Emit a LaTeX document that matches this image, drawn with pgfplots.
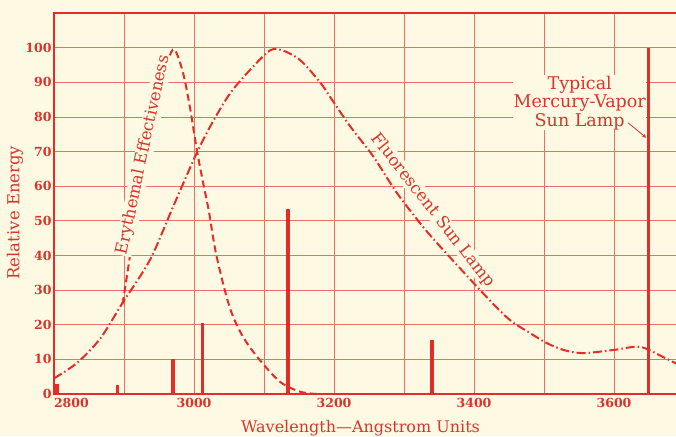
\documentclass[border=0pt]{standalone}
\usepackage{fontspec}
\setmainfont{DejaVu Serif}
\usepackage{pgfplots}
\pgfplotsset{compat=1.18}
\definecolor{cream}{RGB}{253,249,226}
\definecolor{lred}{RGB}{226,46,38}
\definecolor{gred}{RGB}{232,112,100}
\definecolor{tred}{RGB}{218,52,42}

\begin{document}
\begin{tikzpicture}
\path[use as bounding box, fill=cream] (-54pt,-42pt) rectangle (622pt,394pt);
\begin{axis}[
    at={(0,0)}, anchor=south west,
    scale only axis,
    width=627.2pt, height=381pt,
    xmin=2800, xmax=3696,
    ymin=0, ymax=110,
    axis line style={lred, line width=1.4pt},
    xtick={2800,3000,3200,3400,3600},
    xticklabels={\makebox[0pt][l]{2800},3000,3200,3400,3600},
    minor xtick={2900,3100,3300,3500},
    ytick={0,10,20,30,40,50,60,70,80,90,100},
    yticklabels={0,10,20,30,40,50,60,70,80,90,100},
    major tick length=0pt, minor tick length=0pt,
    grid=both,
    major grid style={gred, line width=0.8pt},
    minor grid style={gred, line width=0.8pt},
    tick label style={text=tred, font=\bfseries\fontsize{12.5}{12.5}\selectfont},
    yticklabel style={xshift=1pt},
    xticklabel style={yshift=-1pt},
    xlabel={Wavelength—Angstrom Units},
    ylabel={Relative Energy},
    xlabel style={text=tred, font=\fontsize{16}{16}\selectfont,
        at={(axis description cs:0.4887,-0.089)}, anchor=center},
    ylabel style={text=tred, font=\fontsize{16.5}{16.5}\selectfont,
        at={(axis description cs:-0.0622,0.476)}, anchor=center},
]
% mercury-vapour lines
\addplot[ycomb, lred, line width=3.5pt, mark=none] coordinates {
    (2804,3) (2891,2.6) (2970,10) (3012,20.5) (3134,53.5) (3340,15.5) (3649,100)
};
% erythemal effectiveness
\addplot[lred, line width=2pt, smooth, dash pattern=on 7pt off 4pt] coordinates {
    (2898,26) (2906,36.5) (2913,46) (2920,55) (2926,63) (2933,71) (2942,80)
    (2954,90) (2963,96.5) (2972,99.5) (2984,93) (2994,83) (3004,70.5)
    (3013,61) (3021,53) (3032,40) (3051,25) (3070,16.5) (3094,9.8)
    (3123,3.5) (3151,0.7) (3175,0)
};
% fluorescent sun lamp
\addplot[lred, line width=2pt, smooth, dash pattern=on 9pt off 3pt on 1.5pt off 3pt] coordinates {
    (2800,4.5) (2833,9) (2866,16) (2897,26) (2937,38.7) (2970,54) (3004,69.6)
    (3028,79) (3056,88) (3104,98.5) (3123,99.4) (3151,96.5) (3180,90)
    (3197,85) (3223,77.3) (3256,68.6) (3290,58) (3327,48.3) (3356,41.6)
    (3418,28) (3451,21.4) (3480,17.6) (3504,14.7) (3528,12.7) (3556,11.8)
    (3599,12.7) (3637,13.6) (3670,10.7) (3696,8)
};
\node[text=tred, fill=cream, inner sep=1pt, rotate=78, font=\fontsize{16.5}{16.5}\selectfont]
    at (axis cs:2928,69) {Erythemal Effectiveness};
\node[text=tred, fill=cream, inner sep=0.5pt, rotate=-52, font=\fontsize{16.5}{16.5}\selectfont]
    at (axis cs:3341,53) {Fluorescent Sun Lamp};
\node[text=tred, fill=cream, inner sep=0.5pt, align=center, font=\fontsize{17.5}{18.5}\selectfont]
    at (axis cs:3551,84.1) {Typical\\Mercury-Vapor\\Sun Lamp};
\draw[lred, line width=0.8pt, -stealth] (axis cs:3620,78.3) -- (axis cs:3646,74);
\end{axis}
\end{tikzpicture}
\end{document}
